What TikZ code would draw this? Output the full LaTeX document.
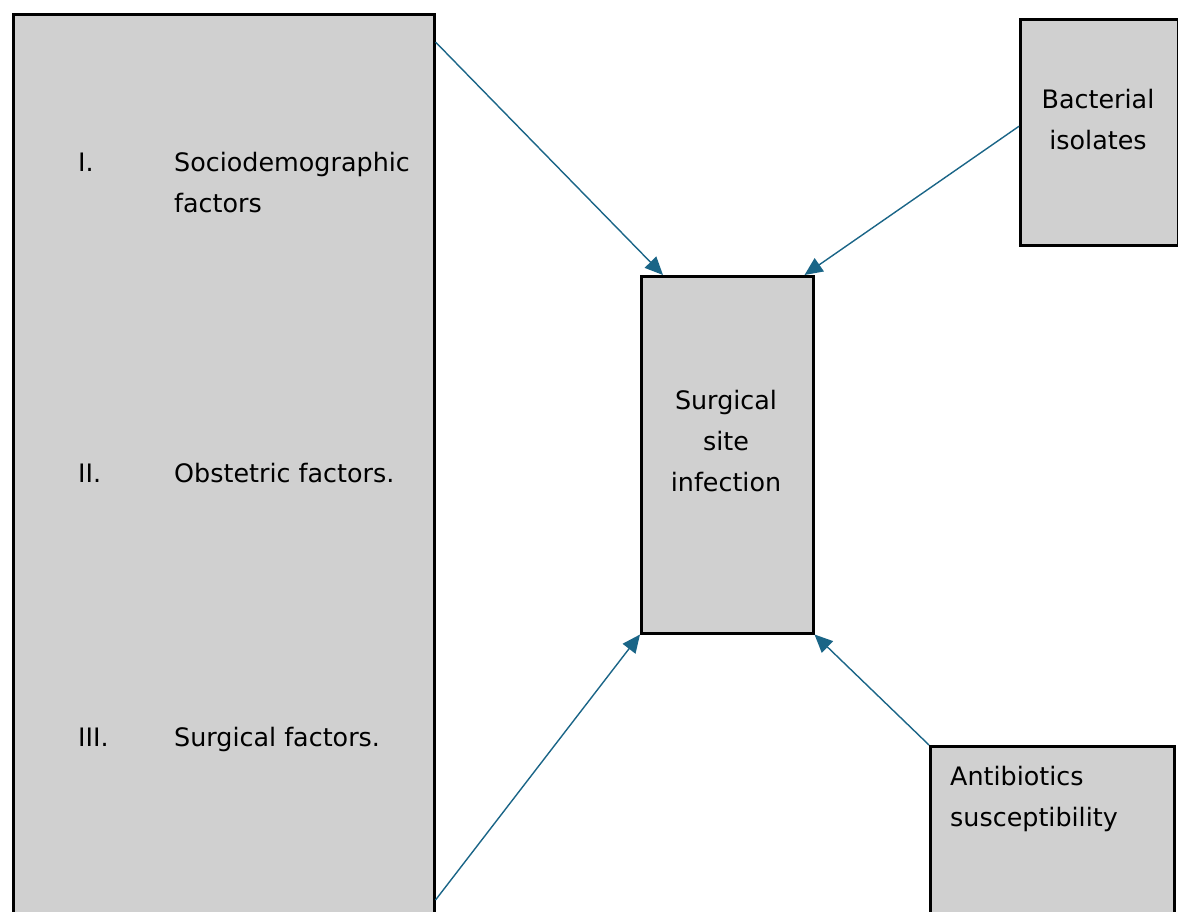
\documentclass[tikz,border=0pt]{standalone}
\usepackage{fontspec}
\setmainfont{DejaVu Sans}
\usetikzlibrary{arrows.meta,calc,positioning}
\definecolor{arrowblue}{HTML}{1A6587}
\definecolor{boxgray}{HTML}{D0D0D0}

\begin{document}
\begin{tikzpicture}[x=1pt,y=-1pt,font=\fontsize{25.4}{41}\selectfont]
        \tikzstyle{factorbox}=[draw,line width=2.5pt,fill=boxgray,inner sep=0pt,anchor=north west]
        \tikzstyle{link}=[arrowblue,line width=1.4pt,-{Triangle[length=18pt,width=16pt]}]
        \tikzstyle{txt}=[inner sep=0pt,anchor=base west,align=left]

        \clip (0,0) rectangle (1178,911);

        % Boxes
        \node[factorbox,minimum width=421pt,minimum height=930pt] (factors) at (12,13) {};
        \node[factorbox,minimum width=172pt,minimum height=357pt] (ssi) at (640,275) {};
        \node[factorbox,minimum width=158pt,minimum height=226pt] (bact) at (1019,18) {};
        \node[factorbox,minimum width=244pt,minimum height=200pt] (abx) at (929,745) {};

        % Factor list (base anchor = last line)
        \node[txt] (num1) at (78,171) {I.};
        \node[txt] (socio) at (174,212) {Sociodemographic\\factors};
        \node[txt] (num2) at (78,482) {II.};
        \node[txt] (obst) at (174,482) {Obstetric factors.};
        \node[txt] (num3) at (78,746) {III.};
        \node[txt] (surg) at (174,746) {Surgical factors.};

        % Box texts
        \node[txt,anchor=base,align=center] (ssitext) at (726,491) {Surgical\\site\\infection};
        \node[txt,anchor=base,align=center] (bacttext) at (1098,149) {Bacterial\\isolates};
        \node[txt] (abxtext) at (950,826) {Antibiotics\\susceptibility};

        % Arrows into the outcome
        \draw[link] ($(factors.north east)+(0,29)$) -- ($(ssi.north west)+(23,0)$);
        \draw[link] ($(bact.west)+(0,-6)$) -- ($(ssi.north east)+(-10,0)$);
        \draw[link] ($(factors.north east)+(0,887)$) -- (ssi.south west);
        \draw[link] (abx.north west) -- (ssi.south east);
\end{tikzpicture}
\end{document}
